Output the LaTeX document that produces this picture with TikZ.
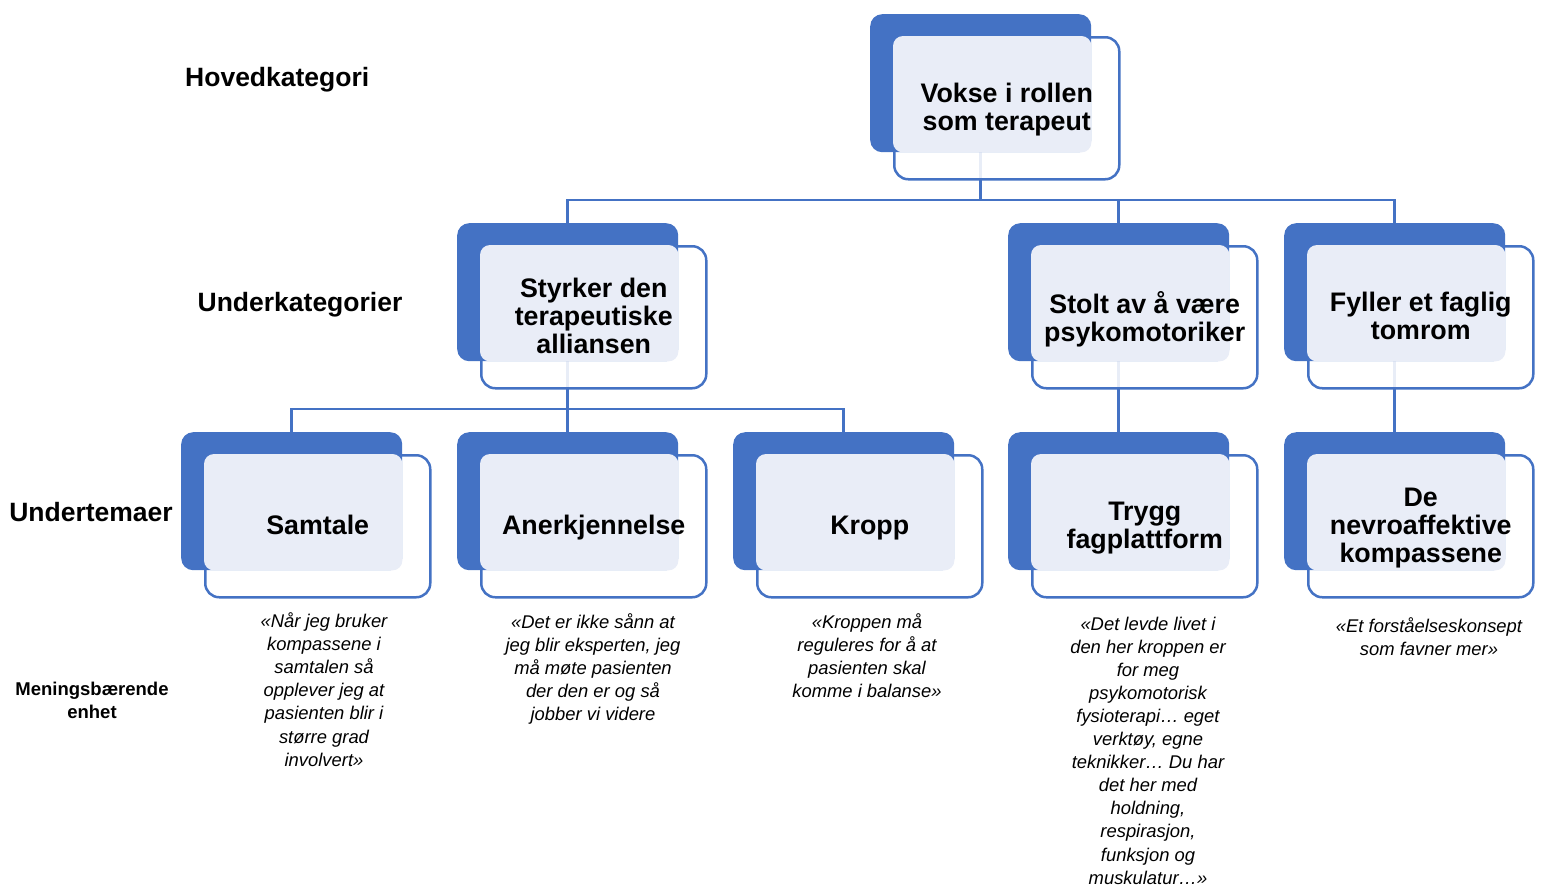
\documentclass[tikz,border=0pt]{standalone}
\usepackage{fontspec}
\setmainfont{Liberation Sans}
\usetikzlibrary{backgrounds}
\definecolor{acc}{HTML}{4472C4}
\definecolor{lite}{HTML}{E9EDF7}
\tikzset{
  darkbox/.style={fill=acc, draw=none, rounded corners=12pt, minimum width=221pt, minimum height=138pt, anchor=north west, inner sep=0pt},
  framebox/.style={fill=white, fill opacity=0.88, draw=acc, draw opacity=1, line width=2.5pt, rounded corners=14pt, minimum width=225pt, minimum height=142pt, anchor=north west, inner sep=0pt},
  nodetext/.style={font=\bfseries\fontsize{26.8}{28}\selectfont, align=center, inner sep=0pt, text depth=5.5pt, yshift=-1.7pt},
  rowlabel/.style={font=\bfseries\fontsize{26.5}{30}\selectfont, inner sep=0pt},
  smalllabel/.style={font=\bfseries\fontsize{18.5}{23}\selectfont, align=center, inner sep=0pt},
  quote/.style={font=\itshape\fontsize{18.4}{23.1}\selectfont, align=center, inner sep=0pt, anchor=north},
  conn/.style={draw=acc, line width=2.6pt}
}
\newcommand\unitbox[4]{%
  \node[framebox] (#1f) at (#2+23,#3+22) {};
  \node[darkbox] (#1d) at (#2,#3) {};
  \fill[lite, rounded corners=10pt] (#1f.north west) rectangle (#1d.south east);
  \node[nodetext] (#1) at (#1f.center) {#4};
}
\begin{document}
\begin{tikzpicture}[x=1pt,y=-1pt]
\useasboundingbox (0,0) rectangle (1541,886);

\unitbox{top}{870}{14}{Vokse i rollen\\som terapeut}
\unitbox{sty}{457}{223}{Styrker den\\terapeutiske\\alliansen}
\unitbox{sto}{1008}{223}{Stolt av å være\\psykomotoriker}
\unitbox{fyl}{1284}{223}{Fyller et faglig\\tomrom}
\unitbox{sam}{181}{432}{Samtale}
\unitbox{ane}{457}{432}{Anerkjennelse}
\unitbox{kro}{733}{432}{Kropp}
\unitbox{try}{1008}{432}{Trygg\\fagplattform}
\unitbox{nev}{1284}{432}{De\\nevroaffektive\\kompassene}

\coordinate (bus1) at (0,200);
\coordinate (bus2) at (0,409);

\begin{scope}[on background layer]
  \fill[white] (0,0) rectangle (1541,886);
  \draw[conn] (topd.south) -- (topd.south |- bus1);
  \draw[conn] (styd.north) |- (fyld.north |- bus1) -- (fyld.north);
  \draw[conn] (stod.north) -- (stod.north |- bus1);
  \draw[conn] (styd.south) -- (styd.south |- bus2);
  \draw[conn] (samd.north) |- (krod.north |- bus2) -- (krod.north);
  \draw[conn] (aned.north) -- (aned.north |- bus2);
  \draw[conn] (stod.south) -- (tryd.north);
  \draw[conn] (fyld.south) -- (nevd.north);
\end{scope}

\node[rowlabel, anchor=base west] (lhoved) at (185,86) {Hovedkategori};
\node[rowlabel, anchor=base] (lunderk) at (300,311) {Underkategorier};
\node[rowlabel, anchor=base] (lundert) at (91,521) {Undertemaer};
\node[smalllabel] (lmen) at (92,700) {Meningsbærende\\enhet};

\node[quote] (qsam) at (324,612.5) {«Når jeg bruker\\kompassene i\\samtalen så\\opplever jeg at\\pasienten blir i\\større grad\\involvert»};
\node[quote] (qane) at (593,613.5) {«Det er ikke sånn at\\jeg blir eksperten, jeg\\må møte pasienten\\der den er og så\\jobber vi videre};
\node[quote] (qkro) at (867,613.5) {«Kroppen må\\reguleres for å at\\pasienten skal\\komme i balanse»};
\node[quote] (qtry) at (1148,616.5) {«Det levde livet i\\den her kroppen er\\for meg\\psykomotorisk\\fysioterapi… eget\\verktøy, egne\\teknikker… Du har\\det her med\\holdning,\\respirasjon,\\funksjon og\\muskulatur…»};
\node[quote] (qfyl) at (1429,617.5) {«Et forståelseskonsept\\som favner mer»};
\end{tikzpicture}
\end{document}
